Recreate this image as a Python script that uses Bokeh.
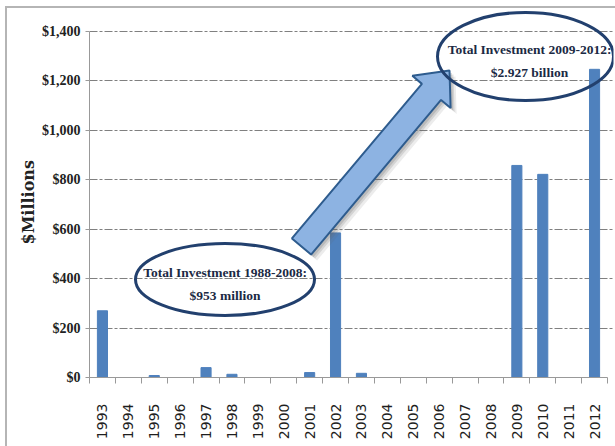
import math
from bokeh.plotting import figure
from bokeh.models import Range1d, FixedTicker, NumeralTickFormatter, Title
from bokeh.core.properties import value
from bokeh.embed import file_html
from bokeh.resources import INLINE

# ---------------- data ----------------
years = [1993, 1994, 1995, 1996, 1997, 1998, 1999, 2000, 2001, 2002,
         2003, 2004, 2005, 2006, 2007, 2008, 2009, 2010, 2011, 2012]
year_labels = [str(y) for y in years]
investment = [270, 0, 8, 0, 40, 13, 0, 0, 20, 585,
              17, 0, 0, 0, 0, 0, 858, 822, 0, 1247]
y_ticks = [0, 200, 400, 600, 800, 1000, 1200, 1400]
y_title = "$Millions"
note1 = ["Total Investment 1988-2008:", "$953 million"]
note2 = ["Total Investment 2009-2012:", "$2.927 billion"]

# ---------------- layout (pixels) ----------------
W, H = 615, 446
FL, FR, FT, FB = 89, 613, 5, 377          # frame edges
AX_RIGHT = 607                            # where category axis ends
PX_PER_CAT = (AX_RIGHT - FL) / len(years)
PX_PER_VAL = (FB - 31) / 1400.0

x0 = years[0] - 0.5
x_end = x0 + (FR - FL) / PX_PER_CAT
y_end = (FB - FT) / PX_PER_VAL


def px_x(px):
    return x0 + (px - FL) / PX_PER_CAT


def px_y(py):
    return (FB - py) / PX_PER_VAL


border_css = ("linear-gradient(#b5b5b5,#b5b5b5) 5px 6px / 2px 100% no-repeat, "
              "linear-gradient(#b5b5b5,#b5b5b5) 5px 6px / 100% 2px no-repeat, #ffffff")

p = figure(width=W, height=H, output_backend="svg", toolbar_location=None,
           x_range=Range1d(x0, x_end), y_range=Range1d(0, y_end),
           min_border_left=FL, min_border_right=W - FR,
           min_border_top=FT, min_border_bottom=H - FB,
           styles={"background": border_css})
p.outline_line_color = None
p.background_fill_color = None
p.border_fill_color = None

# ---------------- axes ----------------
xa = p.xaxis[0]
xa.ticker = FixedTicker(ticks=years, minor_ticks=[y - 0.5 for y in years] + [years[-1] + 0.5])
xa.major_label_overrides = {y: s for y, s in zip(years, year_labels)}
xa.bounds = (x0, years[-1] + 0.5)
xa.major_tick_out = 0
xa.major_tick_in = 0
xa.minor_tick_out = 6
xa.minor_tick_in = 0
xa.minor_tick_line_color = "#999999"
xa.axis_line_color = "#999999"
xa.major_label_orientation = math.pi / 2
xa.major_label_standoff = 20
xa.major_label_text_font = "DejaVu Sans"
xa.major_label_text_font_size = "14px"
xa.major_label_text_color = "#1e1e1e"

ya = p.yaxis[0]
ya.ticker = FixedTicker(ticks=y_ticks)
ya.formatter = NumeralTickFormatter(format="$0,0")
ya.bounds = (0, 1400)
ya.major_tick_out = 4
ya.major_tick_in = 0
ya.minor_tick_out = 0
ya.minor_tick_in = 0
ya.major_tick_line_color = "#999999"
ya.axis_line_color = "#999999"
ya.major_label_standoff = 5
ya.major_label_text_font = "Liberation Serif"
ya.major_label_text_font_style = "bold"
ya.major_label_text_font_size = "14px"
ya.major_label_text_color = "#222222"

p.xgrid.visible = False
p.ygrid.ticker = FixedTicker(ticks=y_ticks)
p.ygrid.grid_line_color = "#808080"
p.ygrid.grid_line_dash = "8 2 3 2"
p.ygrid.grid_line_width = 1

p.add_layout(Title(text=y_title, align="left", offset=133, standoff=2,
                   text_font="DejaVu Serif", text_font_style="bold",
                   text_font_size="16px", text_color="#222222"), "left")

# ---------------- bars ----------------
p.vbar(x=years, top=investment, width=0.39, color="#4F81BD")

# ---------------- block arrow ----------------
tail = (301.0, 246.0)
tip = (449.0, 70.0)
L = math.hypot(tip[0] - tail[0], tip[1] - tail[1])
d = ((tip[0] - tail[0]) / L, (tip[1] - tail[1]) / L)
n = (-d[1], d[0])
hl, hw, hh = 28.0, 12.5, 25.0
base = (tip[0] - d[0] * hl, tip[1] - d[1] * hl)


def pt(c, s):
    return (c[0] + n[0] * s, c[1] + n[1] * s)


poly = [pt(tail, hw), pt(base, hw), pt(base, hh), tip,
        pt(base, -hh), pt(base, -hw), pt(tail, -hw)]
for off, alpha in [(6, 0.12), (4, 0.18), (2.5, 0.22)]:
    p.patch([px_x(a + off) for a, b in poly], [px_y(b + off) for a, b in poly],
            fill_color="#666666", fill_alpha=alpha, line_color=None)
p.patch([px_x(a) for a, b in poly], [px_y(b) for a, b in poly],
        fill_color="#8DB3E2", line_color="#2E5C8E", line_width=2)

# ---------------- ellipses & notes ----------------
p.ellipse(x=[px_x(224.5), px_x(525)], y=[px_y(279), px_y(56)],
          width=[179, 176], height=[72, 88],
          width_units="screen", height_units="screen",
          fill_color=None, line_color="#22406E", line_width=3)

p.text(x=[px_x(224.5)] * 2 + [px_x(529)] * 2,
       y=[px_y(272), px_y(295), px_y(49), px_y(72)],
       text=note1 + note2,
       text_font=value("Liberation Serif"), text_font_style="bold",
       text_font_size="13.5px", text_align="center", text_baseline="middle",
       text_color="#1B2A44")

open("out.html", "w").write(file_html(p, INLINE))
